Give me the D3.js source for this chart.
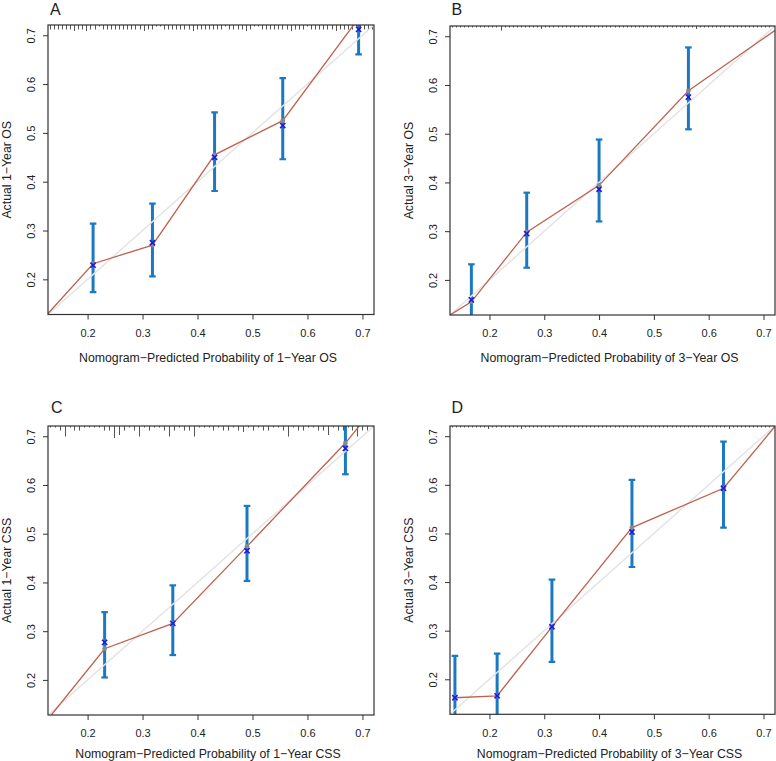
<!DOCTYPE html>
<html><head><meta charset="utf-8">
<script src="https://cdn.jsdelivr.net/npm/d3@7"></script>
<style>
body{margin:0;background:#fff;}
svg{display:block;}
text{font-family:"Liberation Sans",Arial,Helvetica,sans-serif;fill:#222;}
</style>
</head><body>
<svg id="chart" width="776" height="761"></svg>
<script>
// ---------- shared axis info ----------
const axisDomain = [0.128, 0.721];
const tickValues = [0.2, 0.3, 0.4, 0.5, 0.6, 0.7];
const tickLabels = ["0.2", "0.3", "0.4", "0.5", "0.6", "0.7"];
const panelLetters = ["A", "B", "C", "D"];
const xTitles = [
  "Nomogram\u2212Predicted Probability of 1\u2212Year OS",
  "Nomogram\u2212Predicted Probability of 3\u2212Year OS",
  "Nomogram\u2212Predicted Probability of 1\u2212Year CSS",
  "Nomogram\u2212Predicted Probability of 3\u2212Year CSS"
];
const yTitles = ["Actual 1\u2212Year OS", "Actual 3\u2212Year OS", "Actual 1\u2212Year CSS", "Actual 3\u2212Year CSS"];

// ---------- panel A : 1-year OS ----------
const predA = [0.210, 0.318, 0.431, 0.555, 0.693];
const obsA  = [0.232, 0.270, 0.455, 0.525, 0.735];
const corA  = [0.229, 0.275, 0.450, 0.515, 0.712];
const loA   = [0.174, 0.206, 0.381, 0.446, 0.661];
const hiA   = [0.314, 0.355, 0.542, 0.612, 0.790];
const lineAx = [0.128, 0.210, 0.318, 0.431, 0.555, 0.693];
const lineAy = [0.130, 0.232, 0.270, 0.455, 0.525, 0.735];
const rugA = [3,3,3,3,3,3,4,3,3,4,3,3,1,3,3,3,3,3,3,3,3,3,3,4,3,3,1,1,3,3,3,3,3,3,3,4,3,3,3,3,
              3,3,3,1,3,3,3,3,4,3,1,1,3,3,3,3,3,3,3,4,3,3,3,1,3,3,3,3,3,3,4,3,3,3,3,1,3,3,3,3];

// ---------- panel B : 3-year OS ----------
const predB = [0.167, 0.268, 0.400, 0.563];
const obsB  = [0.155, 0.298, 0.394, 0.588];
const corB  = [0.159, 0.295, 0.386, 0.575];
const loB   = [0.100, 0.225, 0.320, 0.509];
const hiB   = [0.232, 0.379, 0.488, 0.677];
const lineBx = [0.128, 0.167, 0.268, 0.400, 0.563, 0.721];
const lineBy = [0.128, 0.155, 0.298, 0.394, 0.588, 0.712];
const rugB = [1,1,1,1,1,1,1,1,1,1,1,1,3,1,1,1,1,1,1,1,1,1,2,1,1,1,1,1,1,1,1,1,1,1,1,1,1,1,1,1,
              1,1,1,1,1,1,1,1,1,1,1,1,1,1,1,1,1,1,1,1,2,1,1,1,1,1,1,1,1,1,1,1,1,1,1,1,1,1,1,1];

// ---------- panel C : 1-year CSS ----------
const predC = [0.231, 0.355, 0.490, 0.669];
const obsC  = [0.264, 0.316, 0.474, 0.686];
const corC  = [0.277, 0.316, 0.465, 0.675];
const loC   = [0.205, 0.251, 0.403, 0.622];
const hiC   = [0.339, 0.394, 0.557, 0.760];
const lineCx = [0.134, 0.231, 0.355, 0.490, 0.669, 0.700];
const lineCy = [0.128, 0.264, 0.316, 0.474, 0.686, 0.729];
const rugC = [1,1,3,7,1,3,3,1,1,1,1,3,3,8,6,3,1,3,7,1,3,1,1,3,7,3,1,3,3,7,1,1,1,
              3,1,3,3,1,3,4,1,3,1,3,3,1,1,3,7,1,3,3,1,1,3,3,6,1,3,3,1,3,7,3,3,1];

// ---------- panel D : 3-year CSS ----------
const predD = [0.137, 0.214, 0.314, 0.460, 0.627];
const obsD  = [0.162, 0.166, 0.308, 0.512, 0.593];
const corD  = [0.162, 0.166, 0.308, 0.503, 0.593];
const loD   = [0.080, 0.085, 0.236, 0.431, 0.512];
const hiD   = [0.248, 0.253, 0.405, 0.610, 0.689];
const lineDx = [0.137, 0.214, 0.314, 0.460, 0.627, 0.721];
const lineDy = [0.162, 0.166, 0.308, 0.512, 0.593, 0.720];
const rugD = [1,1,1,1,1,1,1,1,1,2,1,1,1,1,1,1,1,2,1,1,1,1,1,1,1,1,1,1,1,1,1,1,1,1,1,1,1,1,1,1,
              1,1,1,1,1,1,1,1,1,1,1,1,1,1,1,1,1,1,1,1,1,1,1,1,1,1,1,1,2,1,1,1,1,1,1,1,1,1,1,1];

// ---------- layout ----------
const layout = [
  {left:48,  right:374, top:25,  bottom:314.5, tickY:333.3, titleY:357.3, letterX:50,    letterY:15},
  {left:450, right:775, top:26,  bottom:315,   tickY:333.3, titleY:357.3, letterX:451.5, letterY:15},
  {left:48,  right:374, top:426, bottom:715,   tickY:733.3, titleY:753.5, letterX:51,    letterY:412.5},
  {left:450, right:775, top:426, bottom:714.3, tickY:733.3, titleY:753.3, letterX:451.5, letterY:412.5}
];
const panelsData = [
  {pred:predA, obs:obsA, cor:corA, lo:loA, hi:hiA, lx:lineAx, ly:lineAy, rug:rugA},
  {pred:predB, obs:obsB, cor:corB, lo:loB, hi:hiB, lx:lineBx, ly:lineBy, rug:rugB},
  {pred:predC, obs:obsC, cor:corC, lo:loC, hi:hiC, lx:lineCx, ly:lineCy, rug:rugC},
  {pred:predD, obs:obsD, cor:corD, lo:loD, hi:hiD, lx:lineDx, ly:lineDy, rug:rugD}
];

const svg = d3.select("#chart");
svg.append("rect").attr("width",776).attr("height",761).attr("fill","#fff");

const barColor = "#1b79c2", crossColor = "#1c1ce0", dotColor = "#8a8a8a",
      redColor = "#c0604e", diagColor = "#e4e4e4", axisColor = "#333";
const rugScale = d3.scaleLinear().domain([0, 1]).range([0, 1.5]);

panelsData.forEach((d, i) => {
  const L = layout[i];
  const x = d3.scaleLinear().domain(axisDomain).range([L.left, L.right]);
  const y = d3.scaleLinear().domain(axisDomain).range([L.bottom, L.top]);
  const g = svg.append("g");

  const clipId = "clip" + i;
  svg.append("defs").append("clipPath").attr("id", clipId)
    .append("rect").attr("x", L.left).attr("y", L.top)
    .attr("width", L.right - L.left).attr("height", L.bottom - L.top);
  const inner = g.append("g").attr("clip-path", `url(#${clipId})`);

  // rug (frequency ticks along the top)
  const rugPos = d3.scaleLinear().domain([0, d.rug.length - 1]).range([0.131, 0.718]);
  inner.selectAll(".rug").data(d.rug).join("line")
    .attr("x1", (v, k) => Math.round(x(rugPos(k))) + 0.5)
    .attr("x2", (v, k) => Math.round(x(rugPos(k))) + 0.5)
    .attr("y1", L.top).attr("y2", v => L.top + rugScale(v))
    .attr("stroke", "#555").attr("stroke-width", 1);

  // error bars
  const n = d.pred.length;
  const idx = d3.range(n);
  inner.selectAll(".bar").data(idx).join("line")
    .attr("x1", k => x(d.pred[k])).attr("x2", k => x(d.pred[k]))
    .attr("y1", k => y(d.lo[k])).attr("y2", k => y(d.hi[k]))
    .attr("stroke", barColor).attr("stroke-width", 3);
  ["lo", "hi"].forEach(key => {
    inner.selectAll(".cap" + key).data(idx).join("line")
      .attr("x1", k => x(d.pred[k]) - 3.3).attr("x2", k => x(d.pred[k]) + 3.3)
      .attr("y1", k => y(d[key][k])).attr("y2", k => y(d[key][k]))
      .attr("stroke", barColor).attr("stroke-width", 2.2);
  });

  // ideal diagonal
  inner.append("line")
    .attr("x1", x(axisDomain[0])).attr("y1", y(axisDomain[0]))
    .attr("x2", x(axisDomain[1])).attr("y2", y(axisDomain[1]))
    .attr("stroke", diagColor).attr("stroke-width", 1.5);

  // observed line
  const lineGen = d3.line().x(k => x(d.lx[k])).y(k => y(d.ly[k]));
  inner.append("path").attr("d", lineGen(d3.range(d.lx.length)))
    .attr("fill", "none").attr("stroke", redColor).attr("stroke-width", 1.3);

  // observed points
  inner.selectAll(".dot").data(idx).join("circle")
    .attr("cx", k => x(d.pred[k])).attr("cy", k => y(d.obs[k]))
    .attr("r", 2.4).attr("fill", dotColor);

  // bias-corrected crosses
  const s = 2.6;
  inner.selectAll(".cross").data(idx).join("path")
    .attr("d", k => {
      const cx = x(d.pred[k]), cy = y(d.cor[k]);
      return `M${cx-s},${cy-s}L${cx+s},${cy+s}M${cx-s},${cy+s}L${cx+s},${cy-s}`;
    })
    .attr("stroke", crossColor).attr("stroke-width", 1.6).attr("fill", "none");

  // box
  g.append("rect").attr("x", L.left).attr("y", L.top)
    .attr("width", L.right - L.left).attr("height", L.bottom - L.top)
    .attr("fill", "none").attr("stroke", axisColor).attr("stroke-width", 1.2);

  // x axis
  const xa = g.append("g").attr("transform", `translate(0,${L.bottom})`)
    .call(d3.axisBottom(x).tickValues(tickValues).tickSize(5)
      .tickFormat((v, k) => tickLabels[k]));
  xa.select(".domain").remove();
  xa.selectAll(".tick line").attr("stroke", axisColor);
  xa.selectAll(".tick text").attr("y", L.tickY - L.bottom).attr("dy", "0.35em")
    .attr("font-size", "11px").attr("fill", "#222");

  // y axis
  const ya = g.append("g").attr("transform", `translate(${L.left},0)`)
    .call(d3.axisLeft(y).tickValues(tickValues).tickSize(5)
      .tickFormat((v, k) => tickLabels[k]));
  ya.select(".domain").remove();
  ya.selectAll(".tick line").attr("stroke", axisColor);
  ya.selectAll(".tick text")
    .attr("x", null).attr("dy", null)
    .attr("transform", "translate(-13.2,0) rotate(-90)")
    .attr("text-anchor", "middle")
    .attr("font-size", "11px").attr("fill", "#222");

  // titles
  svg.append("text").attr("x", (L.left + L.right) / 2 - 3).attr("y", L.titleY)
    .attr("dy", "0.35em").attr("text-anchor", "middle").attr("font-size", "12.3px")
    .text(xTitles[i]);
  svg.append("text")
    .attr("transform", `translate(${L.left - 41 + 4.4},${(L.top + L.bottom) / 2}) rotate(-90)`)
    .attr("text-anchor", "middle").attr("font-size", "12.3px")
    .text(yTitles[i]);
  svg.append("text").attr("x", L.letterX).attr("y", L.letterY)
    .attr("font-size", "16px").text(panelLetters[i]);
});
</script>
</body></html>
